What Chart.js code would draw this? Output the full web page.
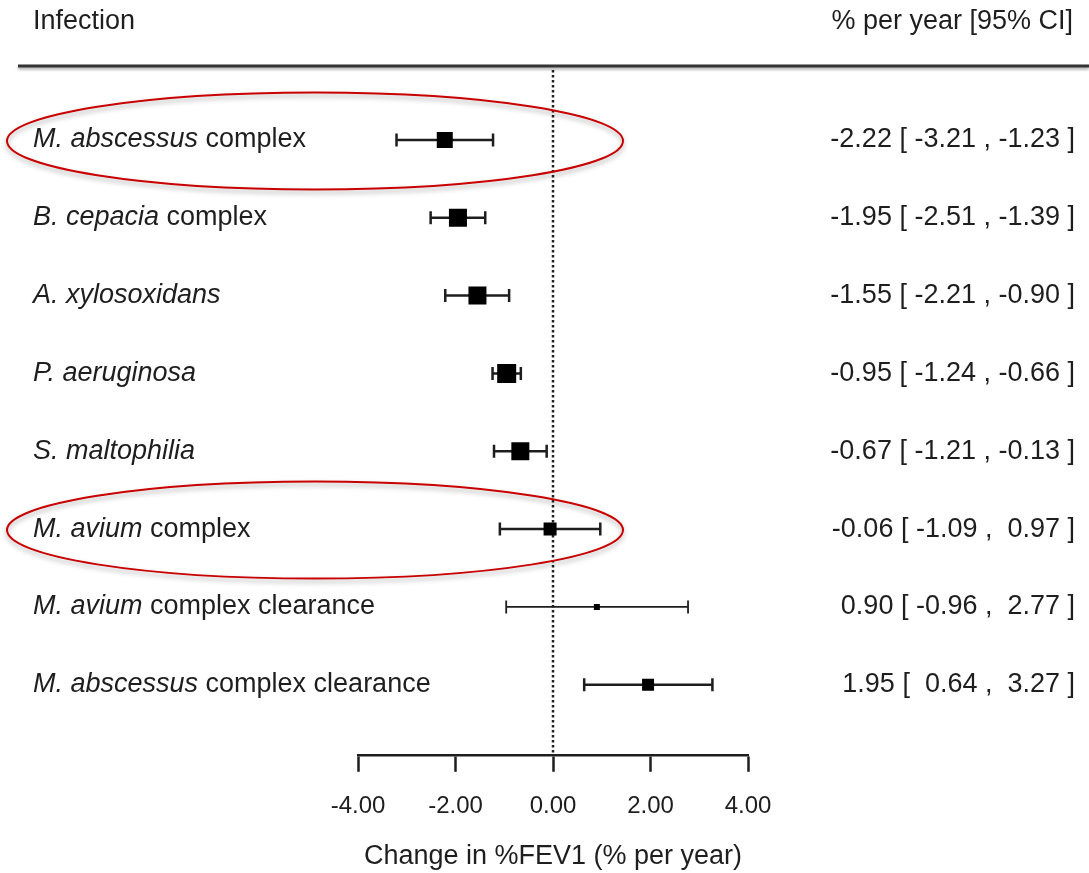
<!DOCTYPE html>
<html>
<head>
<meta charset="utf-8">
<script src="https://cdn.jsdelivr.net/npm/chart.js@4.4.1/dist/chart.umd.min.js"></script>
<style>
  html, body { margin: 0; padding: 0; background: #fff; }
  #forest { display: block; }
</style>
</head>
<body>
<canvas id="forest" width="1089" height="873"></canvas>
<script>
// forest plot data, one entry per row (top to bottom)
const speciesNames = ['M. abscessus', 'B. cepacia', 'A. xylosoxidans', 'P. aeruginosa', 'S. maltophilia', 'M. avium', 'M. avium', 'M. abscessus'];
const labelSuffix = [' complex', ' complex', '', '', '', ' complex', ' complex clearance', ' complex clearance'];
const estimate = [-2.22, -1.95, -1.55, -0.95, -0.67, -0.06, 0.90, 1.95];
const ciLower = [-3.21, -2.51, -2.21, -1.24, -1.21, -1.09, -0.96, 0.64];
const ciUpper = [-1.23, -1.39, -0.90, -0.66, -0.13, 0.97, 2.77, 3.27];
const xTicks = [-4, -2, 0, 2, 4];
const circledRows = [0, 5];

// styling
const FONT = '"Liberation Sans", Arial, Helvetica, sans-serif';
const INK = '#1e1e1e';
const boxSide = [16, 18, 18, 19, 18, 13, 6, 12];

const fmt = v => (v < 0 ? '-' : '') + Math.abs(v).toFixed(2);
const fmtPad = v => (v < 0 ? '' : ' ') + fmt(v);

const forestDecor = {
  id: 'forestDecor',
  beforeDatasetsDraw(chart) {
    const { ctx, chartArea, scales: { x, y } } = chart;
    ctx.save();
    // header
    ctx.fillStyle = INK;
    ctx.textBaseline = 'middle';
    ctx.font = '27px ' + FONT;
    ctx.textAlign = 'left';
    ctx.fillText('Infection', 33, 22);
    ctx.textAlign = 'right';
    ctx.fillText('% per year [95% CI]', 1073, 22);

    ctx.shadowColor = 'rgba(0,0,0,0.35)';
    ctx.shadowBlur = 3;
    ctx.shadowOffsetY = 2;
    ctx.strokeStyle = '#333';
    ctx.lineWidth = 3;
    ctx.beginPath();
    ctx.moveTo(18, 66);
    ctx.lineTo(chart.width, 66);
    ctx.stroke();
    ctx.shadowColor = 'transparent';

    // dotted no-effect line
    const x0 = x.getPixelForValue(0);
    ctx.strokeStyle = '#222';
    ctx.lineWidth = 2.5;
    ctx.setLineDash([2.5, 2.5]);
    ctx.beginPath();
    ctx.moveTo(x0, 70);
    ctx.lineTo(x0, chartArea.bottom);
    ctx.stroke();
    ctx.setLineDash([]);

    // confidence intervals
    ctx.strokeStyle = INK;
    estimate.forEach((_, i) => {
      const yy = y.getPixelForValue(i + 1);
      const xa = x.getPixelForValue(ciLower[i]);
      const xb = x.getPixelForValue(ciUpper[i]);
      ctx.lineWidth = i === 6 ? 1.8 : 2.5;
      ctx.beginPath();
      ctx.moveTo(xa, yy); ctx.lineTo(xb, yy);
      ctx.moveTo(xa, yy - 6.5); ctx.lineTo(xa, yy + 6.5);
      ctx.moveTo(xb, yy - 6.5); ctx.lineTo(xb, yy + 6.5);
      ctx.stroke();
    });
    ctx.restore();
  },
  afterDatasetsDraw(chart) {
    const { ctx, scales: { y } } = chart;
    ctx.save();
    ctx.fillStyle = INK;
    ctx.textBaseline = 'middle';
    speciesNames.forEach((name, i) => {
      const yy = y.getPixelForValue(i + 1);
      ctx.textAlign = 'left';
      ctx.font = 'italic 27px ' + FONT;
      ctx.fillText(name, 33, yy);
      const w = ctx.measureText(name).width;
      ctx.font = '27px ' + FONT;
      ctx.fillText(labelSuffix[i], 33 + w, yy);
      ctx.textAlign = 'right';
      const txt = fmtPad(estimate[i]) + ' [ ' + fmtPad(ciLower[i]) + ' , ' + fmtPad(ciUpper[i]) + ' ]';
      ctx.fillText(txt, 1075, yy);
    });

    // red highlight ellipses
    ctx.strokeStyle = '#c80000';
    ctx.lineWidth = 2;
    ctx.shadowColor = 'rgba(0,0,0,0.35)';
    ctx.shadowBlur = 5;
    ctx.shadowOffsetY = 3;
    circledRows.forEach(i => {
      const yy = y.getPixelForValue(i + 1);
      ctx.beginPath();
      ctx.ellipse(315, yy + 1, 308, 48.5, 0, 0, Math.PI * 2);
      ctx.stroke();
    });
    ctx.restore();
  }
};

new Chart(document.getElementById('forest'), {
  type: 'scatter',
  data: {
    datasets: [{
      data: estimate.map((v, i) => ({ x: v, y: i + 1 })),
      pointStyle: 'rect',
      pointRadius: boxSide.map(s => s / 2 / Math.SQRT1_2),
      pointBackgroundColor: '#000',
      pointBorderWidth: 0,
      pointHoverRadius: boxSide.map(s => s / 2 / Math.SQRT1_2),
    }],
  },
  options: {
    responsive: false,
    animation: false,
    devicePixelRatio: 1,
    layout: { padding: { left: 358, right: 341, top: 66, bottom: 0 } },
    plugins: { legend: { display: false }, tooltip: { enabled: false } },
    scales: {
      x: {
        type: 'linear',
        min: -4,
        max: 4,
        afterBuildTicks: scale => { scale.ticks = xTicks.map(v => ({ value: v })); },
        ticks: {
          callback: v => v.toFixed(2),
          color: INK,
          font: { family: FONT, size: 24 },
          padding: 20,
          maxRotation: 0,
        },
        grid: { drawOnChartArea: false, tickLength: 17, tickWidth: 2.5, tickColor: INK },
        border: { display: true, color: INK, width: 2.5 },
        title: {
          display: true,
          text: 'Change in %FEV1 (% per year)',
          color: INK,
          font: { family: FONT, size: 27 },
          padding: { top: 0, bottom: 0 },
        },
      },
      y: { type: 'linear', min: 0.05, max: 8.9, reverse: true, display: false },
    },
  },
  plugins: [forestDecor],
});
</script>
</body>
</html>
